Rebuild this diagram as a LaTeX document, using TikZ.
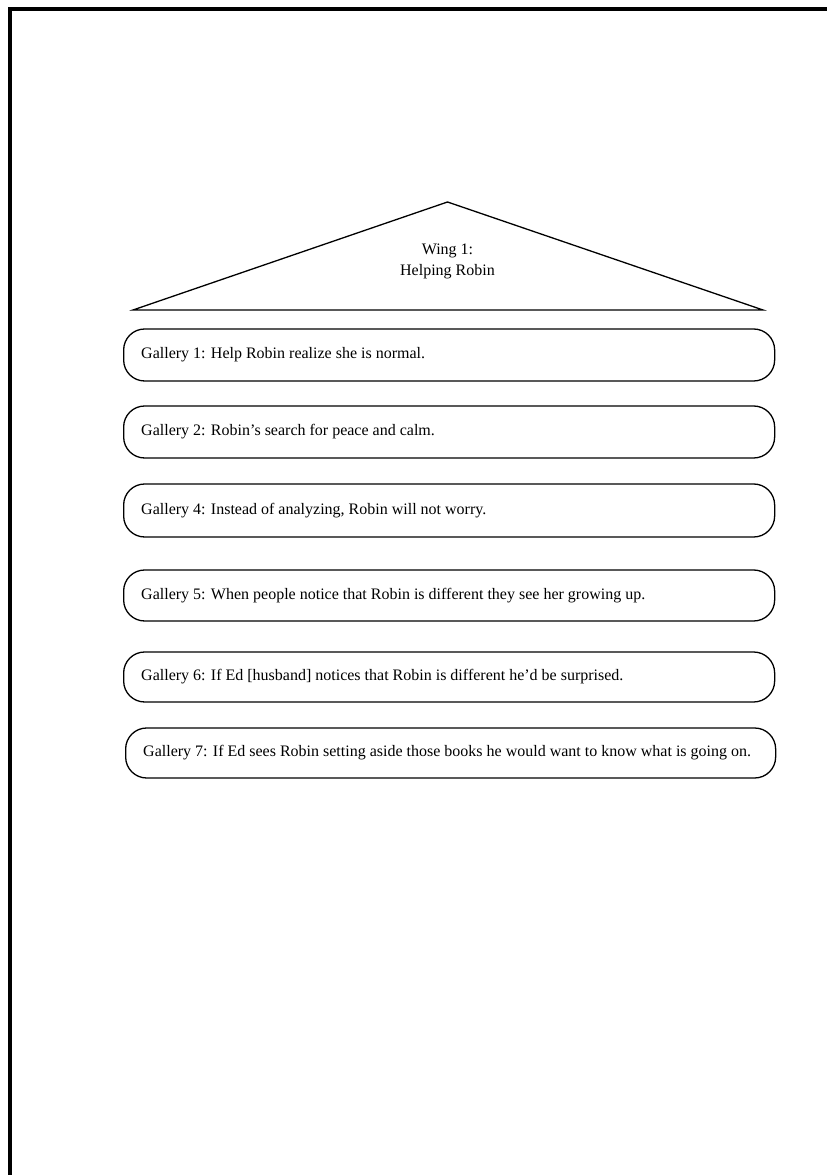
\documentclass[tikz,border=0pt]{standalone}
\usepackage{fontspec}
\setmainfont{Liberation Serif}
\begin{document}
\begin{tikzpicture}[x=1pt,y=1pt,
  frame/.style={line width=4pt,black},
  gbox/.style={draw,line width=1.3pt,rounded corners=21pt,minimum height=52pt,inner sep=0pt,anchor=west},
  gtext/.style={font=\fontsize{16}{20}\selectfont,anchor=west,inner sep=0pt},
  wingline/.style={line width=1.3pt,line join=miter}]
\useasboundingbox (0,0) rectangle (827,1175);
\fill[white] (0,0) rectangle (827,1175);
% page frame
\coordinate (fTR) at (827,1166);
\coordinate (fTL) at (10,1166);
\coordinate (fBL) at (10,0);
\draw[frame] (fTR) -- (fTL) -- (fBL);
% wing roof
\coordinate (apex) at (447.5,973);
\coordinate (bl) at (133,865);
\coordinate (br) at (763,865);
\draw[wingline] (bl) -- (apex) -- (br) -- cycle;
\node[font=\fontsize{16}{21}\selectfont,align=center] (wing) at (447.5,914) {Wing 1:\\Helping Robin};
% galleries
\node[gbox,minimum width=651pt] (g1) at (123,820) {};
\node[gtext] (t1) at ([xshift=18pt]g1.west) {Gallery 1: Help Robin realize she is normal.};
\node[gbox,minimum width=651pt] (g2) at (123,743) {};
\node[gtext] (t2) at ([xshift=18pt]g2.west) {Gallery 2: Robin’s search for peace and calm.};
\node[gbox,minimum width=651pt,minimum height=53pt] (g4) at (123,664.5) {};
\node[gtext] (t4) at ([xshift=18pt]g4.west) {Gallery 4: Instead of analyzing, Robin will not worry.};
\node[gbox,minimum width=651pt,minimum height=51pt] (g5) at (123,579.5) {};
\node[gtext] (t5) at ([xshift=18pt]g5.west) {Gallery 5: When people notice that Robin is different they see her growing up.};
\node[gbox,minimum width=651pt,minimum height=50pt] (g6) at (123,498) {};
\node[gtext] (t6) at ([xshift=18pt]g6.west) {Gallery 6: If Ed [husband] notices that Robin is different he’d be surprised.};
\node[gbox,minimum width=650pt,minimum height=50pt] (g7) at (125,422) {};
\node[gtext] (t7) at ([xshift=18pt]g7.west) {Gallery 7: If Ed sees Robin setting aside those books he would want to know what is going on.};
\end{tikzpicture}
\end{document}
